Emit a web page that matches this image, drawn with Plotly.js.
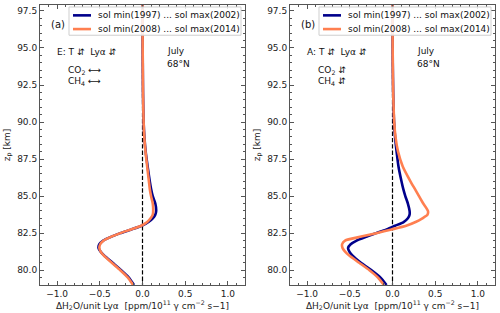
<!DOCTYPE html>
<html>
<head>
<meta charset="utf-8">
<script src="https://cdn.plot.ly/plotly-3.0.1.min.js"></script>
<style>html,body{margin:0;padding:0;background:#fff;}#chart{width:500px;height:313px;}</style>
</head>
<body>
<div id="chart"></div>
<script>
// altitude grid [km]
const zA = [79, 79.5, 80, 80.5, 81, 81.25, 81.5, 81.75, 82, 82.25, 82.5, 82.75, 83, 83.25, 83.5, 83.75, 84, 84.5, 85, 85.5, 86, 87, 88, 89, 90, 92, 94, 96, 98];
// panel (a): E
const a_min97_max02 = [-0.10, -0.16, -0.25, -0.35, -0.45, -0.49, -0.515, -0.505, -0.46, -0.37, -0.26, -0.13, -0.01, 0.07, 0.12, 0.15, 0.16, 0.15, 0.12, 0.10, 0.085, 0.06, 0.037, 0.022, 0.013, 0.006, 0.003, 0.001, 0];
const a_min08_max14 = [-0.11, -0.17, -0.26, -0.36, -0.455, -0.49, -0.505, -0.495, -0.455, -0.37, -0.26, -0.135, -0.015, 0.055, 0.095, 0.12, 0.125, 0.12, 0.10, 0.085, 0.075, 0.055, 0.035, 0.021, 0.013, 0.006, 0.003, 0.001, 0];
// panel (b): A
const b_min97_max02 = [-0.07, -0.14, -0.245, -0.37, -0.47, -0.505, -0.52, -0.49, -0.42, -0.31, -0.19, -0.07, 0.03, 0.13, 0.18, 0.20, 0.20, 0.18, 0.15, 0.125, 0.105, 0.07, 0.048, 0.03, 0.018, 0.008, 0.003, 0.001, 0];
const b_min08_max14 = [-0.10, -0.17, -0.27, -0.39, -0.51, -0.555, -0.585, -0.59, -0.555, -0.38, -0.19, -0.01, 0.16, 0.27, 0.35, 0.41, 0.415, 0.36, 0.31, 0.26, 0.21, 0.12, 0.065, 0.035, 0.02, 0.008, 0.003, 0.001, 0];

const seriesNames = ['sol min(1997) ... sol max(2002)', 'sol min(2008) ... sol max(2014)'];
const colors = ['#00008B', '#FF7F50'];
const xTicks = [-1.0, -0.5, 0.0, 0.5, 1.0];
const yTicks = [80.0, 82.5, 85.0, 87.5, 90.0, 92.5, 95.0, 97.5];

const FONT = 'DejaVu Sans';
const LW = 2.6;
function tr(x, y, i, ax) {
  return {x: x, y: y, type: 'scatter', mode: 'lines', name: seriesNames[i], showlegend: false,
    line: {color: colors[i], width: LW, shape: 'spline', smoothing: 0.6},
    xaxis: 'x' + ax, yaxis: 'y' + ax};
}
function zeroLine(ax) {
  return {x: [0, 0], y: [78, 99], type: 'scatter', mode: 'lines', showlegend: false,
    line: {color: '#000', width: 1.2, dash: '4.4px,1.9px'}, xaxis: 'x' + ax, yaxis: 'y' + ax, hoverinfo: 'skip'};
}
const data = [
  zeroLine(''), zeroLine('2'),
  tr(a_min97_max02, zA, 0, ''), tr(a_min08_max14, zA, 1, ''),
  tr(b_min97_max02, zA, 0, '2'), tr(b_min08_max14, zA, 1, '2')
];

const axCommon = {
  showgrid: false, zeroline: false, showline: true, linecolor: '#555', linewidth: 1,
  mirror: 'allticks', ticks: 'inside', ticklen: 4, tickwidth: 1, tickcolor: '#555',
  tickfont: {family: FONT, size: 9, color: '#222'}
};
function xa(dom, anchor) {
  return Object.assign({}, axCommon, {domain: dom, anchor: anchor, range: [-1.2, 1.2], tickvals: xTicks,
    ticktext: xTicks.map(v => (v < 0 ? '\u2212' : '') + Math.abs(v).toFixed(1)),
    minor: {dtick: 0.1, ticks: 'inside', ticklen: 2, tickcolor: '#555', showgrid: false},
    title: {text: '\u0394H<sub>2</sub>O/unit Ly\u03b1  [ppm/10<sup>11</sup> \u03b3 cm<sup>\u22122</sup> s\u22121]', font: {family: FONT, size: 9, color: '#222'}, standoff: 3}});
}
function ya(anchor) {
  return Object.assign({}, axCommon, {anchor: anchor, range: [79.0, 97.9], tickvals: yTicks,
    ticktext: yTicks.map(v => v.toFixed(1)),
    minor: {dtick: 0.5, ticks: 'inside', ticklen: 2, tickcolor: '#555', showgrid: false},
    title: {text: 'z<sub>p</sub> [km]', font: {family: FONT, size: 9, color: '#222'}, standoff: 5}});
}

function notes(ax, label, first, arrowsGas) {
  const xr = 'x' + ax, yr = 'y' + ax;
  const f = {family: FONT, size: 9, color: '#111'};
  const base = {xref: xr, yref: yr, showarrow: false, xanchor: 'left', font: f};
  return [
    Object.assign({}, base, {x: -1.1, y: 96.6, text: label, font: {family: FONT, size: 10, color: '#111'}}),
    Object.assign({}, base, {x: -1.03, y: 94.75, text: first + ': T \u21f5  Ly\u03b1 \u21f5'}),
    Object.assign({}, base, {x: -0.9, y: 93.45, text: 'CO<sub>2</sub> ' + arrowsGas}),
    Object.assign({}, base, {x: -0.9, y: 92.75, text: 'CH<sub>4</sub> ' + arrowsGas}),
    Object.assign({}, base, {x: 0.26, y: 94.8, text: 'July'}),
    Object.assign({}, base, {x: 0.26, y: 93.95, text: '68\u00b0N', yanchor: 'middle'})
  ];
}

// legend box drawn per panel (paper coordinates, offset = panel left)
function legendParts(off) {
  const shapes = [{type: 'rect', xref: 'paper', yref: 'paper', x0: off + 0.138, x1: off + 0.482, y0: 0.892, y1: 0.993,
    line: {color: '#cfcfcf', width: 1}, fillcolor: 'rgba(255,255,255,0.85)', layer: 'above'}];
  const anns = [];
  const rows = [0.963, 0.914];
  seriesNames.forEach((nm, i) => {
    shapes.push({type: 'line', xref: 'paper', yref: 'paper', x0: off + 0.146, x1: off + 0.182, y0: rows[i], y1: rows[i],
      line: {color: colors[i], width: LW}, layer: 'above'});
    anns.push({xref: 'paper', yref: 'paper', x: off + 0.192, y: rows[i], xanchor: 'left', yanchor: 'middle',
      showarrow: false, text: nm, font: {family: FONT, size: 9, color: '#111'}});
  });
  return {shapes, anns};
}
const lgA = legendParts(0), lgB = legendParts(0.5);

const layout = {
  width: 500, height: 313, paper_bgcolor: '#fff', plot_bgcolor: '#fff',
  margin: {l: 0, r: 0, t: 5, b: 28}, showlegend: false,
  xaxis: xa([0.08, 0.49], 'y'), yaxis: ya('x'),
  xaxis2: xa([0.58, 0.99], 'y2'), yaxis2: ya('x2'),
  shapes: lgA.shapes.concat(lgB.shapes),
  annotations: notes('', '(a)', 'E', '\u27f7').concat(notes('2', '(b)', 'A', '\u21f5'), lgA.anns, lgB.anns)
};

Plotly.newPlot('chart', data, layout, {displayModeBar: false, staticPlot: true});
</script>
</body>
</html>
